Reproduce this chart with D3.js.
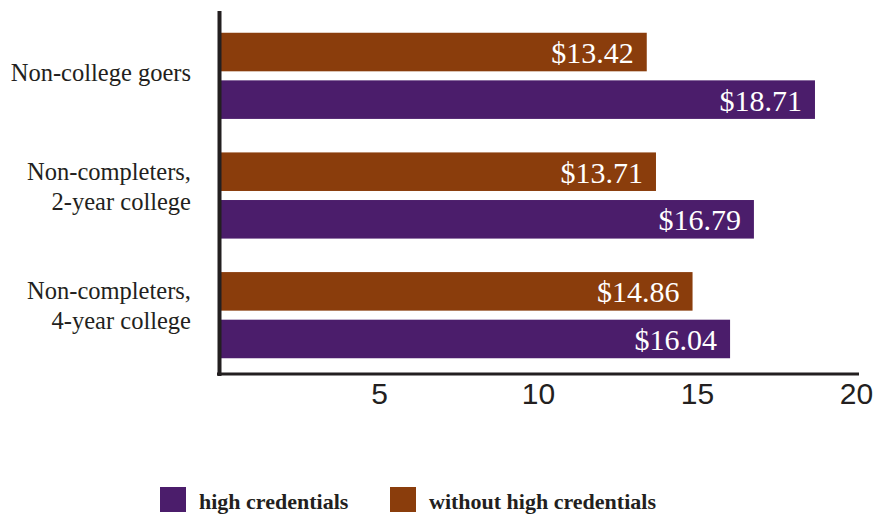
<!DOCTYPE html>
<html>
<head>
<meta charset="utf-8">
<script src="https://cdn.jsdelivr.net/npm/d3@7"></script>
<style>
  html, body { margin: 0; padding: 0; background: #fff; }
  svg { display: block; }
</style>
</head>
<body>
<svg id="chart" width="874" height="516"></svg>
<script>
const categories = ["Non-college goers", "Non-completers,\n2-year college", "Non-completers,\n4-year college"];
const highCredentials = [18.71, 16.79, 16.04];
const withoutHighCredentials = [13.42, 13.71, 14.86];
const seriesKeys = ["without", "high"];
const seriesNames = ["high credentials", "without high credentials"];
const tickValues = [5, 10, 15, 20];

const colors = { high: "#4b1d6b", without: "#8a3d0c" };
const ink = "#231f20";

const svg = d3.select("#chart");

const x = d3.scaleLinear().domain([0, 20]).range([220, 856]);
const y = d3.scaleBand().domain(categories).range([16, 375]).paddingInner(0.28).paddingOuter(0.14);
const ySub = d3.scaleBand().domain(seriesKeys).range([0, y.bandwidth()]).paddingInner(0.19);

const rows = categories.map((c, i) => ({
  cat: c,
  values: [
    { key: "without", v: withoutHighCredentials[i] },
    { key: "high", v: highCredentials[i] }
  ]
}));

const g = svg.append("g");
const groups = g.selectAll("g.grp").data(rows).join("g")
  .attr("class", "grp")
  .attr("transform", d => `translate(0,${y(d.cat)})`);

groups.selectAll("rect").data(d => d.values).join("rect")
  .attr("x", x(0))
  .attr("y", d => ySub(d.key))
  .attr("width", d => x(d.v) - x(0))
  .attr("height", ySub.bandwidth())
  .attr("fill", d => colors[d.key]);

groups.selectAll("text.val").data(d => d.values).join("text")
  .attr("class", "val")
  .attr("x", d => x(d.v) - 13)
  .attr("y", d => ySub(d.key) + ySub.bandwidth() / 2 + 11)
  .attr("text-anchor", "end")
  .attr("fill", "#fff")
  .style("font-family", "'Liberation Serif', 'DejaVu Serif', serif")
  .style("font-size", "30px")
  .text(d => "$" + d.v.toFixed(2));

// Category labels
rows.forEach(d => {
  const lines = d.cat.split("\n");
  const cy = y(d.cat) + y.bandwidth() / 2;
  const t = svg.append("text")
    .attr("text-anchor", "end")
    .attr("fill", ink)
    .style("font-family", "'Liberation Serif', 'DejaVu Serif', serif")
    .style("font-size", "24.5px");
  if (lines.length === 1) {
    t.append("tspan").attr("x", 191).attr("y", cy + 5).text(lines[0]);
  } else {
    t.append("tspan").attr("x", 191).attr("y", cy - 16).text(lines[0]);
    t.append("tspan").attr("x", 191).attr("y", cy + 14).text(lines[1]);
  }
});

// X axis
const xAxis = svg.append("g")
  .attr("transform", "translate(0,374)")
  .call(d3.axisBottom(x).tickValues(tickValues).tickSize(0).tickPadding(9).tickSizeOuter(0));
xAxis.select(".domain").remove();
xAxis.append("line")
  .attr("x1", 217).attr("x2", 859).attr("y1", 0).attr("y2", 0)
  .attr("stroke", ink).attr("stroke-width", 3);
xAxis.selectAll(".tick text")
  .attr("fill", ink)
  .style("font-family", "'Liberation Sans', Arial, sans-serif")
  .style("font-size", "30px");

// Y axis line
svg.append("line")
  .attr("x1", 219.5).attr("x2", 219.5).attr("y1", 11).attr("y2", 376)
  .attr("stroke", ink).attr("stroke-width", 4);

// Legend
const legendItems = [
  { key: "high", label: seriesNames[0], x: 160 },
  { key: "without", label: seriesNames[1], x: 390 }
];
const lg = svg.append("g");
legendItems.forEach(it => {
  lg.append("rect").attr("x", it.x).attr("y", 487).attr("width", 26).attr("height", 25).attr("fill", colors[it.key]);
  lg.append("text")
    .attr("x", it.x + 39).attr("y", 509)
    .attr("fill", ink)
    .style("font-family", "'Liberation Serif', 'DejaVu Serif', serif")
    .style("font-weight", "bold")
    .style("font-size", "22px")
    .text(it.label);
});
</script>
</body>
</html>
